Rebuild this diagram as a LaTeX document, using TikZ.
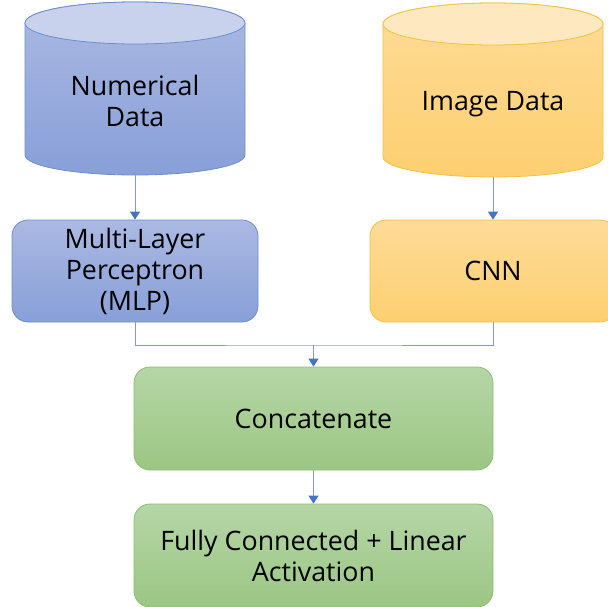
\documentclass[tikz,border=0pt]{standalone}
\usepackage{fontspec}
\setmainfont{Open Sans}
\usetikzlibrary{arrows.meta}
\definecolor{bluecap}{HTML}{C9D2EC}
\definecolor{bluetop}{HTML}{ABB9E3}
\definecolor{bluebot}{HTML}{889FD8}
\definecolor{bluebd}{HTML}{6C8ED0}
\definecolor{yelcap}{HTML}{FEE8BF}
\definecolor{yeltop}{HTML}{FEDB98}
\definecolor{yelbot}{HTML}{FDCF70}
\definecolor{yelbd}{HTML}{F4C142}
\definecolor{grntop}{HTML}{B5D6A6}
\definecolor{grnbot}{HTML}{9CC684}
\definecolor{grnbd}{HTML}{8DBE72}
\definecolor{linec}{HTML}{8A9BB8}
\definecolor{tipc}{HTML}{4472C4}

\begin{document}
\begin{tikzpicture}[x=1pt,y=1pt,
  txt/.style={align=center,font=\fontsize{26.8}{31}\selectfont,text=black,inner sep=0},
  rbox/.style={rounded corners=16pt,line width=0.8pt,minimum height=102pt,inner sep=0,align=center,font=\fontsize{26.8}{31}\selectfont},
  bluebox/.style={rbox,draw=bluebd,top color=bluetop,bottom color=bluebot},
  yelbox/.style={rbox,draw=yelbd,top color=yeltop,bottom color=yelbot},
  grnbox/.style={rbox,draw=grnbd,top color=grntop,bottom color=grnbot},
  conn/.style={draw=linec,line width=0.9pt,-{Triangle[length=8pt,width=10pt,fill=tipc,color=tipc]}},
  plain/.style={draw=linec,line width=0.9pt}]
\useasboundingbox (0,0) rectangle (608,-607);
% left cylinder
\path[draw=bluebd,line width=0.8pt,top color=bluetop,bottom color=bluebot]
  (25,-23) -- (25,-155) arc[start angle=180,end angle=360,x radius=110,y radius=20]
  -- (245,-23) arc[start angle=0,end angle=180,x radius=110,y radius=21] -- cycle;
\draw[draw=bluebd,line width=0.8pt,fill=bluecap] (135,-23) ellipse[x radius=110,y radius=21];
\node[inner sep=0,minimum width=220pt,minimum height=173pt,anchor=north] (num) at (135,-2) {};
\node[txt] (numt) at (135,-101) {Numerical\\Data};
% right cylinder
\path[draw=yelbd,line width=0.8pt,top color=yeltop,bottom color=yelbot]
  (383,-24) -- (383,-157) arc[start angle=180,end angle=360,x radius=110,y radius=20]
  -- (603,-24) arc[start angle=0,end angle=180,x radius=110,y radius=21] -- cycle;
\draw[draw=yelbd,line width=0.8pt,fill=yelcap] (493,-24) ellipse[x radius=110,y radius=21];
\node[inner sep=0,minimum width=220pt,minimum height=174pt,anchor=north] (img) at (493,-3) {};
\node[txt] (imgt) at (493,-104) {Image Data};
% boxes
\node[bluebox,minimum width=246pt] (mlp) at (135,-271) {Multi-Layer\\Perceptron\\(MLP)};
\node[yelbox,minimum width=246pt] (cnn) at (493,-271) {CNN};
\node[grnbox,minimum width=359pt,minimum height=103pt] (cat) at (313.5,-418.5) {Concatenate};
\node[grnbox,minimum width=359pt,minimum height=103pt] (fc) at (313.5,-555.5) {Fully Connected + Linear\\Activation};
% connectors
\draw[conn] (num.south) -- (mlp.north);
\draw[conn] (img.south) -- (cnn.north);
\coordinate (join) at (313.5,-345);
\draw[plain] (mlp.south) |- (join) -| (cnn.south);
\draw[conn] (join) -- (cat.north);
\draw[conn] (cat.south) -- (fc.north);
\end{tikzpicture}
\end{document}
